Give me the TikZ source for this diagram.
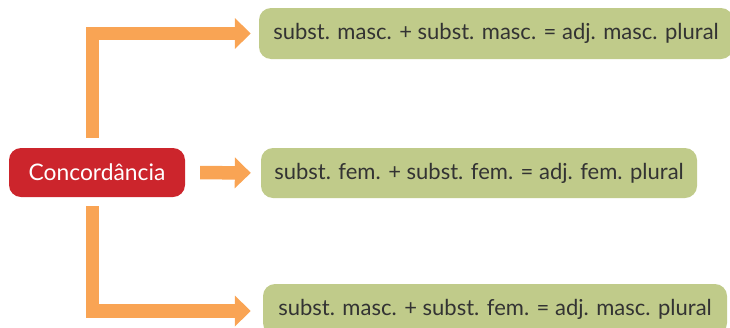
\documentclass[tikz,border=0pt]{standalone}
\usepackage{fontspec}
\setmainfont{Lato}
\usetikzlibrary{arrows.meta,calc}
\definecolor{conred}{HTML}{CC252C}
\definecolor{boxgreen}{HTML}{C0CB8A}
\definecolor{arroworange}{HTML}{F9A454}
\definecolor{txtgray}{HTML}{333333}
\tikzset{
  redbox/.style={fill=conred, rounded corners=12pt, minimum width=176pt, minimum height=49pt, text=white, font=\fontsize{22.8}{26}\selectfont, inner sep=0pt},
  greenbox/.style={fill=boxgreen, rounded corners=12pt, minimum height=51pt, text=txtgray, font=\fontsize{22}{26}\selectfont, inner sep=0pt},
  fatarrow/.style={draw=arroworange, line width=13.5pt, line join=miter, -{Triangle[length=16pt,width=30pt]}}
}
\begin{document}
\begin{tikzpicture}[x=1pt,y=-1pt]
\useasboundingbox (0,0) rectangle (730,327);
\clip (0,0) rectangle (730,327);
\node[redbox] (conc) at (97,172.5) {Concordância};
\node[greenbox, minimum width=474pt] (b1) at (496,33.5) {subst. masc. + subst. masc. = adj. masc. plural\hspace{6pt}};
\node[greenbox, minimum width=436pt, minimum height=50pt] (b2) at (479,173) {subst. fem. + subst. fem. = adj. fem. plural};
\node[greenbox, minimum width=464pt] (b3) at (495,309.5) {\raisebox{0pt}{subst. masc. + subst. fem. = adj. masc. plural}};
\coordinate (s1) at ($(conc.north west)+(83.5,-10)$);
\coordinate (s3) at ($(conc.south west)+(83.5,9)$);
\draw[fatarrow] (s1) |- ($(b1.west)+(-8,0)$);
\draw[fatarrow, shorten <=15pt, shorten >=10pt] (conc.east) -- (b2.west);
\draw[fatarrow] (s3) |- ($(b3.west)+(-12,1.5)$);
\end{tikzpicture}
\end{document}
